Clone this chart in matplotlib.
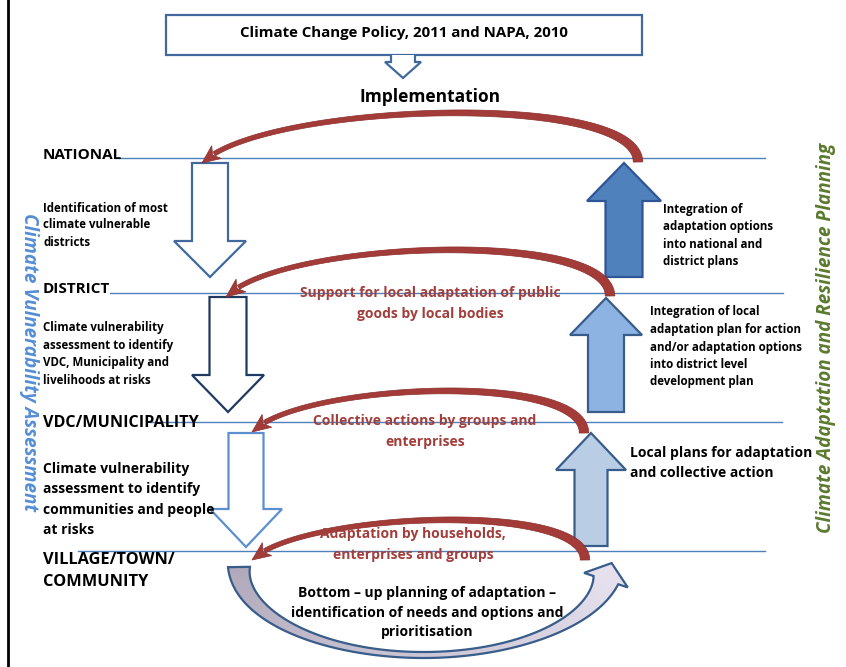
import numpy as np
import matplotlib.pyplot as plt
from matplotlib.patches import Polygon, Rectangle

plt.rcParams['font.family'] = ['Open Sans', 'DejaVu Sans']

# ---- texts of the diagram ----
policy_title = "Climate Change Policy, 2011 and NAPA, 2010"
implementation = "Implementation"
levels = ["NATIONAL", "DISTRICT", "VDC/MUNICIPALITY", "VILLAGE/TOWN/\nCOMMUNITY"]
assessment_notes = [
    "Identification of most\nclimate vulnerable\ndistricts",
    "Climate vulnerability\nassessment to identify\nVDC, Municipality and\nlivelihoods at risks",
    "Climate vulnerability\nassessment to identify\ncommunities and people\nat risks",
]
planning_notes = [
    "Integration of\nadaptation options\ninto national and\ndistrict plans",
    "Integration of local\nadaptation plan for action\nand/or adaptation options\ninto district level\ndevelopment plan",
    "Local plans for adaptation\nand collective action",
]
loop_labels = [
    "Support for local adaptation of public\ngoods by local bodies",
    "Collective actions by groups and\nenterprises",
    "Adaptation by households,\nenterprises and groups",
]
bottom_up = "Bottom \u2013 up planning of adaptation \u2013\nidentification of needs and options and\nprioritisation"
left_title = "Climate Vulnerability Assessment"
right_title = "Climate Adaptation and Resilience Planning"

# ---- layout (pixels, y grows downwards) ----
level_y = [158, 293, 422, 551]
line_x = [(115, 765), (110, 783), (150, 782), (78, 765)]
level_fs = [11, 11, 11.6, 11.8]
level_ty = [155, 289, 423, 560]

note_pos = [(43, 208, 17.0, 8.3), (43, 328, 17.4, 8.3), (43, 469, 20.3, 10)]
plan_pos = [(663, 209, 17.6, 8.3), (650, 312, 17.5, 8.3), (630, 453, 20.0, 10)]
loop_pos = [(430, 293), (425, 421), (413, 534)]

# down arrows: centre x, top, tip, stem half width, head half width, head length, edge
down_arrows = [(210, 163, 277, 18, 36, 36, '#41699d'),
               (228, 297, 412, 18.5, 36, 37, '#1f3a60'),
               (246, 433, 547, 17.5, 36, 38, '#5b8fcf')]
# up arrows: centre x, bottom, tip, stem half, head half, head length, fill, edge
up_arrows = [(624, 277, 163, 18.5, 37, 38, '#4f81bd', '#2f5597'),
             (606, 412, 298, 18, 36, 37, '#8db3e2', '#385d8a'),
             (591, 546, 433, 16.5, 35, 37, '#b9cde5', '#385d8a')]
# red loops: right end, arrow tip, peak height
red_loops = [((638, 162), (202, 163), 113),
             ((610, 296), (226, 297), 250),
             ((584, 433), (252, 432), 391),
             ((585, 560), (252, 560), 520)]

RED = '#a33c38'
RED_TXT = '#a23e3b'

fig = plt.figure(figsize=(8.46, 6.67), dpi=100)
ax = fig.add_axes([0, 0, 1, 1])
ax.set_xlim(0, 846)
ax.set_ylim(667, 0)
ax.axis('off')


def lines_text(x, y0, pitch, s, size, ha='left', color='black'):
    for i, line in enumerate(s.split('\n')):
        ax.text(x, y0 + i * pitch, line, ha=ha, va='center', fontsize=size,
                fontweight='bold', color=color, zorder=6)


def block_arrow(cx, y_start, y_tip, sh, hh, hl, face, edge, lw=1.6):
    d = 1 if y_tip > y_start else -1
    yb = y_tip - d * hl
    pts = [(cx - sh, y_start), (cx + sh, y_start), (cx + sh, yb), (cx + hh, yb),
           (cx, y_tip), (cx - hh, yb), (cx - sh, yb)]
    ax.add_patch(Polygon(pts, closed=True, facecolor=face, edgecolor=edge,
                         lw=lw, joinstyle='miter', zorder=3))


def bez(p0, p1, p2, p3, t):
    t = t[:, None]
    return ((1 - t) ** 3 * p0 + 3 * (1 - t) ** 2 * t * p1
            + 3 * (1 - t) * t ** 2 * p2 + t ** 3 * p3)


def red_loop(right, tip, peak):
    p0 = np.array(right, float)
    p3 = np.array(tip, float)
    span = p0[0] - p3[0]
    csum = (peak - 0.125 * (p0[1] + p3[1])) / 0.375
    c1 = csum / 2 - 6
    c2 = csum / 2 + 6
    p1 = np.array([p0[0], c1])
    p2 = np.array([p3[0] + 0.14 * span, c2])
    t = np.linspace(0, 1, 400)
    pts = bez(p0, p1, p2, p3, t)
    dist = np.linalg.norm(pts - p3, axis=1)
    k = np.argmax(dist < 16)
    pts, t = pts[:k + 1], t[:k + 1]
    base = pts[-1]
    u = (p3 - base) / np.linalg.norm(p3 - base)
    d = np.gradient(pts, axis=0)
    d /= np.linalg.norm(d, axis=1)[:, None]
    n = np.column_stack([-d[:, 1], d[:, 0]])
    tt = t / t[-1]
    w = (2.3 + 2.5 * (1 - tt) ** 2)[:, None]
    poly = np.vstack([pts + n * w, (pts - n * w)[::-1]])
    ax.add_patch(Polygon(poly, closed=True, facecolor=RED, edgecolor='#8a2e2b',
                         lw=0.5, zorder=4))
    nn = np.array([-u[1], u[0]])
    head = [p3, base + nn * 8 - u * 3, base + u * 2, base - nn * 8 - u * 3]
    ax.add_patch(Polygon(head, closed=True, facecolor=RED, edgecolor='#8a2e2b',
                         lw=0.5, zorder=4))


# left frame line
ax.plot([8, 8], [0, 667], color='black', lw=2, zorder=1)

# policy box and small arrow
ax.add_patch(Rectangle((166, 15), 476, 40, facecolor='white', edgecolor='#41699d',
                       lw=1.6, zorder=3))
ax.text(404, 33, policy_title, ha='center', va='center', fontsize=10.8,
        fontweight='bold', zorder=6)
ax.add_patch(Polygon([(391, 55), (391, 62), (385, 62), (403, 78), (421, 62),
                      (415, 62), (415, 55)], closed=False, facecolor='white',
                     edgecolor='#41699d', lw=1.6, zorder=3))
ax.text(430, 97, implementation, ha='center', va='center', fontsize=12.5,
        fontweight='bold', zorder=6)

# level lines and labels
for (x0, x1), y in zip(line_x, level_y):
    ax.plot([x0, x1], [y, y], color='#4f81bd', lw=1.0, zorder=2)
for name, fs, ty in zip(levels, level_fs, level_ty):
    lines_text(43, ty, 22, name, fs)

# block arrows
for cx, top, tip, sh, hh, hl, ec in down_arrows:
    block_arrow(cx, top, tip, sh, hh, hl, 'white', ec)
for cx, bot, tip, sh, hh, hl, fc, ec in up_arrows:
    block_arrow(cx, bot, tip, sh, hh, hl, fc, ec)

# red loops
for right, tip, peak in red_loops:
    red_loop(right, tip, peak)

# bottom-up curved arrow with gradient fill
cx, cy, a, b = 423.5, 567, 184.5, 88
th_end = 0.15
th = np.linspace(np.pi, th_end, 200)
s = (np.pi - th) / (np.pi - th_end)
cpts = np.column_stack([cx + a * np.cos(th), cy + b * np.sin(th)])
dd = np.gradient(cpts, axis=0)
dd /= np.linalg.norm(dd, axis=1)[:, None]
nrm = np.column_stack([-dd[:, 1], dd[:, 0]])
half = np.where(s < 0.5, 3 + 8 * (1 - 2 * s) ** 2, 3 + 10 * (2 * s - 1) ** 3)[:, None]
edge_a = cpts + nrm * half
edge_b = cpts - nrm * half
c_left = np.array([0.69, 0.66, 0.73])
c_right = np.array([0.90, 0.88, 0.93])
for i in range(len(th) - 1):
    col = c_left + (c_right - c_left) * s[i]
    quad = [edge_a[i], edge_a[i + 1], edge_b[i + 1], edge_b[i]]
    ax.add_patch(Polygon(quad, closed=True, facecolor=col, edgecolor=col,
                         lw=0.6, zorder=2))
u_end = dd[-1]
n_end = nrm[-1]
base = cpts[-1]
tip_b = base + u_end * 18
head = [edge_a[-1], base + n_end * 23, tip_b, base - n_end * 23, edge_b[-1]]
ax.add_patch(Polygon(head, closed=True, facecolor=c_right, edgecolor='none', zorder=2))
outline = np.vstack([edge_b, [base - n_end * 23, tip_b, base + n_end * 23],
                     edge_a[::-1]])
ax.add_patch(Polygon(outline, closed=True, facecolor='none', edgecolor='#385d8a',
                     lw=1.6, zorder=3))

# notes
for txt, (x, y0, p, fs) in zip(assessment_notes, note_pos):
    lines_text(x, y0, p, txt, fs)
for txt, (x, y0, p, fs) in zip(planning_notes, plan_pos):
    lines_text(x, y0, p, txt, fs)
for txt, (x, y0) in zip(loop_labels, loop_pos):
    lines_text(x, y0, 21, txt, 10, ha='center', color=RED_TXT)
lines_text(427, 593, 19.5, bottom_up, 10, ha='center')

# side titles
ax.text(29, 362, left_title, rotation=270, ha='center', va='center', fontsize=13.6,
        fontweight='bold', fontstyle='italic', color='#558ed5', zorder=6)
ax.text(826, 338, right_title, rotation=90, ha='center', va='center', fontsize=13.6,
        fontweight='bold', fontstyle='italic', color='#5b7a2e', zorder=6)

fig.savefig('out.png', dpi=100)
